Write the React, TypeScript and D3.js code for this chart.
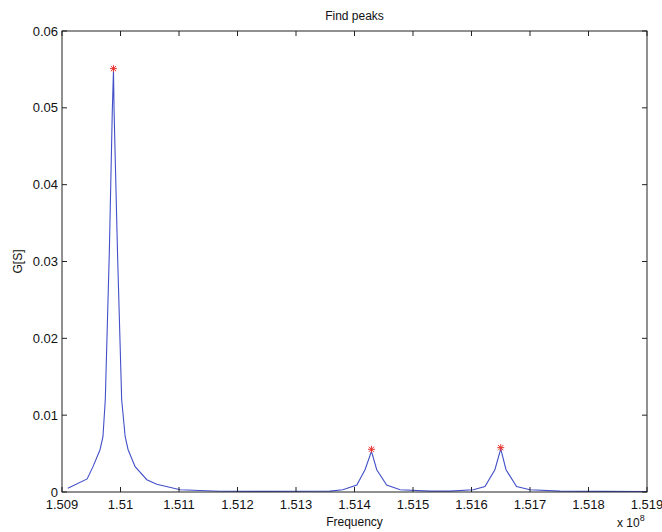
import React from 'react';
import * as d3 from 'd3';

const width = 662;
const height = 532;
const margin = { top: 31, right: 15, bottom: 40, left: 62 };

// frequency in units of 1e8, conductance G[S]
const freq = [
  1.5091, 1.50943, 1.50953, 1.50965, 1.5097, 1.50974, 1.50981, 1.50986, 1.50988,
  1.50989, 1.50995, 1.51002, 1.51008, 1.51013, 1.51025, 1.51045, 1.51062, 1.51102,
  1.5117, 1.5125, 1.5133, 1.51358, 1.5138, 1.51404, 1.51418, 1.51429, 1.51438,
  1.51455, 1.51478, 1.51529, 1.51563, 1.51603, 1.51623, 1.5164, 1.5165, 1.51659,
  1.51677, 1.517, 1.51751, 1.5182, 1.519
];
const gValues = [
  0.0005, 0.0017, 0.0033, 0.0055, 0.0072, 0.012, 0.0315, 0.0497, 0.0549,
  0.0497, 0.0308, 0.012, 0.0072, 0.0055, 0.0033, 0.0016, 0.001, 0.0003,
  0.0001, 0.00008, 0.0001, 0.00012, 0.0003, 0.0009, 0.0029, 0.0053, 0.0029,
  0.0009, 0.0003, 0.00012, 0.00012, 0.0003, 0.0007, 0.0029, 0.0056, 0.0029,
  0.0007, 0.0003, 0.00012, 0.00008, 0.00006
];

const peakFreq = [1.50988, 1.51429, 1.5165];
const peakValues = [0.0551, 0.00556, 0.00577];

const xTicks = [1.509, 1.51, 1.511, 1.512, 1.513, 1.514, 1.515, 1.516, 1.517, 1.518, 1.519];
const xTickLabels = ['1.509', '1.51', '1.511', '1.512', '1.513', '1.514', '1.515', '1.516', '1.517', '1.518', '1.519'];
const yTicks = [0, 0.01, 0.02, 0.03, 0.04, 0.05, 0.06];
const yTickLabels = ['0', '0.01', '0.02', '0.03', '0.04', '0.05', '0.06'];

const font = '"Liberation Sans", Arial, sans-serif';

export default function App() {
  const x = d3.scaleLinear().domain([1.509, 1.519]).range([margin.left, width - margin.right]);
  const y = d3.scaleLinear().domain([0, 0.06]).range([height - margin.bottom, margin.top]);

  const line = d3.line<number>()
    .x((d, i) => x(freq[i]))
    .y(d => y(d));

  const x0 = x.range()[0], x1 = x.range()[1];
  const y0 = y.range()[0], y1 = y.range()[1];
  const tickLen = 5;

  return (
    <svg width={width} height={height} style={{ position: 'absolute', left: 0, top: 0, background: '#fff' }}>
      {/* curve */}
      <path d={line(gValues) || ''} fill="none" stroke="#4250c8" strokeWidth={1.1} />

      {/* peak markers */}
      {peakFreq.map((f, i) => {
        const cx = x(f), cy = y(peakValues[i]), r = 3.5, s = 2.6;
        return (
          <g key={i} stroke="#e8302c" strokeWidth={1}>
            <line x1={cx - r} y1={cy} x2={cx + r} y2={cy} />
            <line x1={cx} y1={cy - r} x2={cx} y2={cy + r} />
            <line x1={cx - s} y1={cy - s} x2={cx + s} y2={cy + s} />
            <line x1={cx - s} y1={cy + s} x2={cx + s} y2={cy - s} />
          </g>
        );
      })}

      {/* box */}
      <rect x={x0} y={y1} width={x1 - x0} height={y0 - y1} fill="none" stroke="#222" strokeWidth={1} />

      {/* x ticks */}
      {xTicks.map((t, i) => (
        <g key={'x' + i}>
          <line x1={x(t)} x2={x(t)} y1={y0} y2={y0 - tickLen} stroke="#222" />
          <line x1={x(t)} x2={x(t)} y1={y1} y2={y1 + tickLen} stroke="#222" />
          <text x={x(t)} y={y0 + 17} textAnchor="middle" fontFamily={font} fontSize={13} fill="#111">{xTickLabels[i]}</text>
        </g>
      ))}

      {/* y ticks */}
      {yTicks.map((t, i) => (
        <g key={'y' + i}>
          <line x1={x0} x2={x0 + tickLen} y1={y(t)} y2={y(t)} stroke="#222" />
          <line x1={x1} x2={x1 - tickLen} y1={y(t)} y2={y(t)} stroke="#222" />
          <text x={x0 - 4} y={y(t) + 4.5} textAnchor="end" fontFamily={font} fontSize={13} fill="#111">{yTickLabels[i]}</text>
        </g>
      ))}

      {/* labels */}
      <text x={(x0 + x1) / 2} y={20} textAnchor="middle" fontFamily={font} fontSize={12} fill="#111">Find peaks</text>
      <text x={(x0 + x1) / 2} y={526} textAnchor="middle" fontFamily={font} fontSize={12} fill="#111">Frequency</text>
      <text transform={`translate(22, ${(y0 + y1) / 2}) rotate(-90)`} textAnchor="middle" fontFamily={font} fontSize={12} fill="#111">G[S]</text>
      <text x={617} y={527} fontFamily={font} fontSize={12} fill="#111">
        x 10<tspan dy={-6} fontSize={9}>8</tspan>
      </text>
    </svg>
  );
}
